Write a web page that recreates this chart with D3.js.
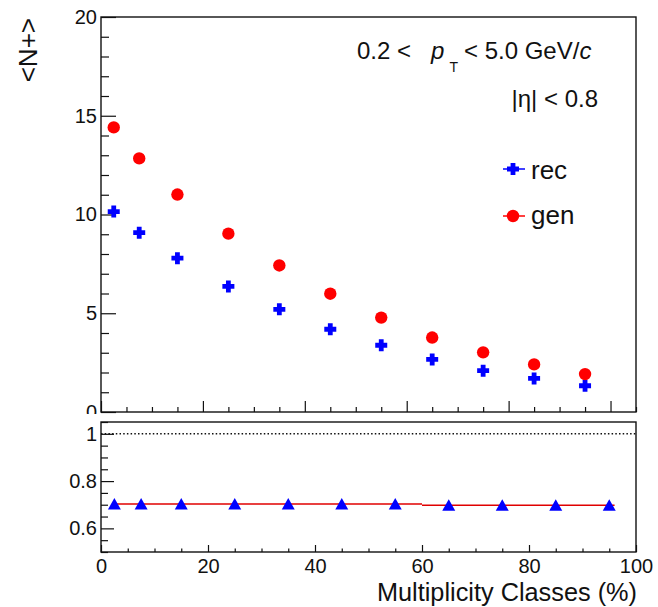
<!DOCTYPE html>
<html><head><meta charset="utf-8">
<script src="https://cdn.jsdelivr.net/npm/d3@7"></script>
<style>body{margin:0;background:#fff}svg{display:block}</style>
</head><body><svg id="c" width="658" height="607"></svg>
<script>
// ---- data ----
const classCenters = [2.5, 7.5, 15, 25, 35, 45, 55, 65, 75, 85, 95];
const genValues = [14.41, 12.84, 11.01, 9.03, 7.42, 5.99, 4.78, 3.77, 3.02, 2.41, 1.92];
const recValues = [10.15, 9.08, 7.79, 6.36, 5.20, 4.19, 3.38, 2.66, 2.09, 1.70, 1.33];
const ratioValues = [0.703, 0.703, 0.703, 0.703, 0.703, 0.703, 0.703, 0.698, 0.698, 0.698, 0.698];
const fitX0 = [2.5, 60];
const fitX1 = [60, 96];
const fitY = [0.703, 0.698];
const upperYMajor = [0, 5, 10, 15, 20];
const lowerYMajor = [0.6, 0.8, 1];
const xMajor = [0, 20, 40, 60, 80, 100];

const FONT = "'Liberation Sans', Arial, Helvetica, sans-serif";
const svg = d3.select("#c").style("font-family", FONT);
svg.append("rect").attr("width", 658).attr("height", 607).attr("fill", "#fff");

const L = 101, R = 636;
const uT = 17, uB = 412, lT = 422, lB = 552;

const xU = d3.scaleLinear().domain([0, 105]).range([L, R]);
const xL = d3.scaleLinear().domain([0, 100]).range([L, R]);
const yU = d3.scaleLinear().domain([0, 20]).range([uB, uT]);
const yL = d3.scaleLinear().domain([0.5, 1.05]).range([lB, lT]);

const defs = svg.append("defs");
defs.append("clipPath").attr("id", "upclip").append("rect")
  .attr("x", 0).attr("y", 0).attr("width", 658).attr("height", 414);

function style(g, fs) {
  g.select(".domain").remove();
  g.selectAll(".tick line").attr("stroke", "#111").attr("stroke-width", 1.2);
  g.selectAll(".tick text").attr("font-size", fs).attr("fill", "#111").attr("font-family", FONT);
}
function range(a, b, s) { const out = []; for (let v = a; v <= b + 1e-9; v += s) out.push(+v.toFixed(4)); return out; }

// ---- upper pad ----
const up = svg.append("g").attr("clip-path", "url(#upclip)");
style(up.append("g").attr("transform", `translate(${L},0)`)
  .call(d3.axisLeft(yU).tickValues(range(0, 20, 1).filter(v => v % 5 !== 0)).tickSize(-8).tickFormat("")), 20);
style(up.append("g").attr("transform", `translate(${L},0)`)
  .call(d3.axisLeft(yU).tickValues(upperYMajor).tickSize(-15).tickPadding(4).tickFormat(d3.format("d"))), 20);
style(up.append("g").attr("transform", `translate(0,${uB})`)
  .call(d3.axisBottom(xU).tickValues(range(0, 105, 5).filter(v => v % 20 !== 0)).tickSize(-5).tickFormat("")), 20);
style(up.append("g").attr("transform", `translate(0,${uB})`)
  .call(d3.axisBottom(xU).tickValues(xMajor).tickSize(-11).tickFormat("")), 20);

up.append("rect").attr("x", L).attr("y", uT).attr("width", R - L).attr("height", uB - uT)
  .attr("fill", "none").attr("stroke", "#111").attr("stroke-width", 1.4);

function crossPath(s, t) {
  return `M${-t},${-s}H${t}V${-t}H${s}V${t}H${t}V${s}H${-t}V${t}H${-s}V${-t}H${-t}Z`;
}
const recData = classCenters.map((x, i) => ({ x, y: recValues[i] }));
const genData = classCenters.map((x, i) => ({ x, y: genValues[i] }));

up.append("g").selectAll("path").data(recData).join("path")
  .attr("d", crossPath(6, 2.4))
  .attr("transform", d => `translate(${xU(d.x)},${yU(d.y)})`)
  .attr("fill", "#0000ff");
up.append("g").selectAll("circle").data(genData).join("circle")
  .attr("cx", d => xU(d.x)).attr("cy", d => yU(d.y)).attr("r", 6.2)
  .attr("fill", "#ff0000");

const t1 = svg.append("text").attr("x", 357).attr("y", 59).attr("font-size", 24).attr("fill", "#111");
t1.append("tspan").text("0.2 <");
t1.append("tspan").attr("dx", 20).attr("font-style", "italic").text("p");
t1.append("tspan").attr("dx", 5).attr("dy", 13).attr("font-size", 14).text("T");
t1.append("tspan").attr("dx", 6).attr("dy", -13).text("< 5.0 GeV/");
t1.append("tspan").attr("font-style", "italic").text("c");

svg.append("text").attr("x", 598).attr("y", 107).attr("font-size", 24).attr("fill", "#111")
  .attr("text-anchor", "end").text("|η| < 0.8");

const legY = [169, 216];
const leg = svg.append("g");
leg.append("line").attr("x1", 503).attr("x2", 525).attr("y1", legY[0]).attr("y2", legY[0])
  .attr("stroke", "#0000ff").attr("stroke-width", 1.5);
leg.append("path").attr("d", crossPath(6, 2.4)).attr("transform", `translate(513,${legY[0]})`).attr("fill", "#0000ff");
leg.append("text").attr("x", 531).attr("y", legY[0] + 10).attr("font-size", 26).attr("fill", "#111").text("rec");
leg.append("line").attr("x1", 503).attr("x2", 525).attr("y1", legY[1]).attr("y2", legY[1])
  .attr("stroke", "#ff0000").attr("stroke-width", 1.5);
leg.append("circle").attr("cx", 513).attr("cy", legY[1]).attr("r", 6.2).attr("fill", "#ff0000");
leg.append("text").attr("x", 531).attr("y", legY[1] + 8).attr("font-size", 26).attr("fill", "#111").text("gen");

svg.append("text").attr("transform", `translate(37,18) rotate(-90)`).attr("text-anchor", "end")
  .attr("font-size", 26).attr("fill", "#111").text("<N+>");

// ---- lower pad ----
const lo = svg.append("g");
style(lo.append("g").attr("transform", `translate(${L},0)`)
  .call(d3.axisLeft(yL).tickValues(range(0.5, 1.05, 0.05).filter(v => Math.abs(v * 10 - Math.round(v * 10)) > 1e-6 || Math.round(v * 10) % 2 === 1 || v < 0.55)).tickSize(-7).tickFormat("")), 20);
style(lo.append("g").attr("transform", `translate(${L},0)`)
  .call(d3.axisLeft(yL).tickValues(lowerYMajor).tickSize(-13).tickPadding(4).tickFormat(d3.format("~g"))), 20);
style(lo.append("g").attr("transform", `translate(0,${lB})`)
  .call(d3.axisBottom(xL).tickValues(range(0, 100, 5).filter(v => v % 20 !== 0)).tickSize(-3.5).tickFormat("")), 20);
style(lo.append("g").attr("transform", `translate(0,${lB})`)
  .call(d3.axisBottom(xL).tickValues(xMajor).tickSize(-7).tickPadding(7).tickFormat(d3.format("d"))), 20);

lo.append("rect").attr("x", L).attr("y", lT).attr("width", R - L).attr("height", lB - lT)
  .attr("fill", "none").attr("stroke", "#111").attr("stroke-width", 1.4);

lo.append("line").attr("x1", xL(0)).attr("x2", xL(100)).attr("y1", yL(1)).attr("y2", yL(1))
  .attr("stroke", "#111").attr("stroke-width", 1.5).attr("stroke-dasharray", "1.5,2.2");

lo.append("g").selectAll("line").data(fitY.map((y, i) => ({ x0: fitX0[i], x1: fitX1[i], y }))).join("line")
  .attr("x1", d => xL(d.x0)).attr("x2", d => xL(d.x1)).attr("y1", d => yL(d.y)).attr("y2", d => yL(d.y))
  .attr("stroke", "#e00000").attr("stroke-width", 1.5);

const ratioData = classCenters.map((x, i) => ({ x, y: ratioValues[i] }));
lo.append("g").selectAll("path").data(ratioData).join("path")
  .attr("d", "M0,-6L6.5,5.5L-6.5,5.5Z")
  .attr("transform", d => `translate(${xL(d.x)},${yL(d.y)})`)
  .attr("fill", "#0000ff");

svg.append("text").attr("x", 637).attr("y", 601).attr("text-anchor", "end")
  .attr("font-size", 25.3).attr("fill", "#111").text("Multiplicity Classes (%)");
</script></body></html>
